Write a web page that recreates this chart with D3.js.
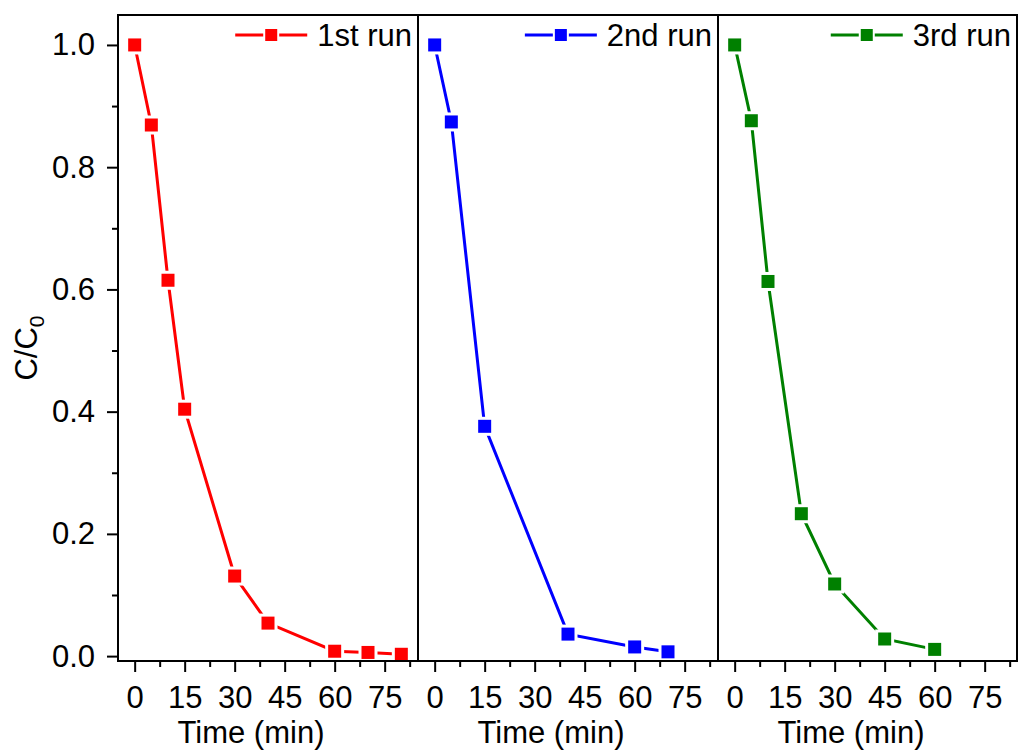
<!DOCTYPE html>
<html><head><meta charset="utf-8">
<script src="https://cdn.jsdelivr.net/npm/d3@7"></script>
<style>
body{margin:0;background:#fff}
text{font-family:Arial,"Liberation Sans",sans-serif;fill:#000}
</style>
</head><body>
<svg id="chart" width="1018" height="753"></svg>
<script>
// Photocatalytic degradation over three consecutive runs
const runNames = ["1st run", "2nd run", "3rd run"];
const runColors = ["#ff0000", "#0000ff", "#008000"];
const run1Time = [0, 5, 10, 15, 30, 40, 60, 70, 80];
const run1Ratio = [1.0, 0.869, 0.615, 0.404, 0.131, 0.054, 0.008, 0.006, 0.003];
const run2Time = [0, 5, 15, 40, 60, 70];
const run2Ratio = [1.0, 0.874, 0.376, 0.036, 0.015, 0.007];
const run3Time = [0, 5, 10, 20, 30, 45, 60];
const run3Ratio = [1.0, 0.876, 0.613, 0.233, 0.118, 0.028, 0.011];
const xMajorTicks = [0, 15, 30, 45, 60, 75];
const xMinorTicks = [7.5, 22.5, 37.5, 52.5, 67.5, 82.5];
const yMajorTicks = [0, 0.2, 0.4, 0.6, 0.8, 1.0];
const yMinorTicks = [0.1, 0.3, 0.5, 0.7, 0.9];

const runs = [
  {name: runNames[0], color: runColors[0], t: run1Time, c: run1Ratio},
  {name: runNames[1], color: runColors[1], t: run2Time, c: run2Ratio},
  {name: runNames[2], color: runColors[2], t: run3Time, c: run3Ratio}
];

const svg = d3.select("#chart");
const plotTop = 15, plotBottom = 661, panelW = 300, firstLeft = 118;
const fontSize = 31, markerSize = 13, haloSize = 19;

const y = d3.scaleLinear().domain([-0.008, 1.049]).range([plotBottom, plotTop]);

runs.forEach((run, i) => {
  const left = firstLeft + i * panelW;
  const right = Math.min(left + panelW, 1017);
  const x = d3.scaleLinear().domain([-5, 85]).range([left, left + panelW]);
  const g = svg.append("g");
  const pts = run.t.map((t, k) => [t, run.c[k]]);

  // connecting line
  g.append("path")
    .attr("d", d3.line().x(d => x(d[0])).y(d => y(d[1]))(pts))
    .attr("fill", "none").attr("stroke", run.color).attr("stroke-width", 3);
  // white halo around each marker leaves a small gap in the line
  g.selectAll("rect.halo").data(pts).join("rect").attr("class", "halo")
    .attr("x", d => x(d[0]) - haloSize / 2).attr("y", d => y(d[1]) - haloSize / 2)
    .attr("width", haloSize).attr("height", haloSize).attr("fill", "#fff");
  g.selectAll("rect.mark").data(pts).join("rect").attr("class", "mark")
    .attr("x", d => x(d[0]) - markerSize / 2).attr("y", d => y(d[1]) - markerSize / 2)
    .attr("width", markerSize).attr("height", markerSize).attr("fill", run.color);

  // bottom axis: major ticks with labels, minor ticks without
  const xAxis = g.append("g").attr("transform", `translate(0,${plotBottom})`)
    .call(d3.axisBottom(x).tickValues(xMajorTicks).tickSize(11).tickPadding(14).tickSizeOuter(0));
  g.append("g").attr("transform", `translate(0,${plotBottom})`)
    .call(d3.axisBottom(x).tickValues(xMinorTicks).tickSize(6).tickFormat("").tickSizeOuter(0));
  g.selectAll(".domain").remove();
  g.selectAll(".tick line").attr("stroke", "#000").attr("stroke-width", 2);
  xAxis.selectAll("text").attr("font-size", fontSize).style("font-family", "Arial, 'Liberation Sans', sans-serif");

  g.append("text").attr("x", left + 133).attr("y", 743).attr("text-anchor", "middle")
    .attr("font-size", fontSize).text("Time (min)");

  // panel frame
  g.append("rect").attr("x", left).attr("y", plotTop).attr("width", right - left).attr("height", plotBottom - plotTop)
    .attr("fill", "none").attr("stroke", "#000").attr("stroke-width", 2);

  // legend in the top-right corner
  const lg = g.append("g");
  const lt = lg.append("text").attr("x", right - 6).attr("y", 35).attr("dy", "0.35em")
    .attr("text-anchor", "end").attr("font-size", fontSize).text(run.name);
  const tw = lt.node().getComputedTextLength();
  const lineEnd = right - 6 - tw - 10, lineStart = lineEnd - 72, mid = (lineStart + lineEnd) / 2;
  lg.append("line").attr("x1", lineStart).attr("x2", lineEnd).attr("y1", 35).attr("y2", 35)
    .attr("stroke", run.color).attr("stroke-width", 3);
  lg.append("rect").attr("x", mid - 8).attr("y", 35 - 8).attr("width", 16).attr("height", 16).attr("fill", "#fff");
  lg.append("rect").attr("x", mid - 6).attr("y", 35 - 6).attr("width", 12).attr("height", 12).attr("fill", run.color);
});

// left axis on the first panel only
const yAxis = svg.append("g").attr("transform", `translate(${firstLeft},0)`)
  .call(d3.axisLeft(y).tickValues(yMajorTicks).tickSize(11).tickPadding(12).tickFormat(d3.format(".1f")).tickSizeOuter(0));
svg.append("g").attr("transform", `translate(${firstLeft},0)`)
  .call(d3.axisLeft(y).tickValues(yMinorTicks).tickSize(6).tickFormat("").tickSizeOuter(0));
svg.selectAll(".domain").remove();
svg.selectAll(".tick line").attr("stroke", "#000").attr("stroke-width", 2);
yAxis.selectAll("text").attr("font-size", fontSize).style("font-family", "Arial, 'Liberation Sans', sans-serif");

const yt = svg.append("text").attr("transform", "translate(37,348) rotate(-90)")
  .attr("text-anchor", "middle").attr("font-size", fontSize);
yt.append("tspan").text("C/C");
yt.append("tspan").attr("font-size", 21).attr("dy", 7).text("0");
</script>
</body></html>
